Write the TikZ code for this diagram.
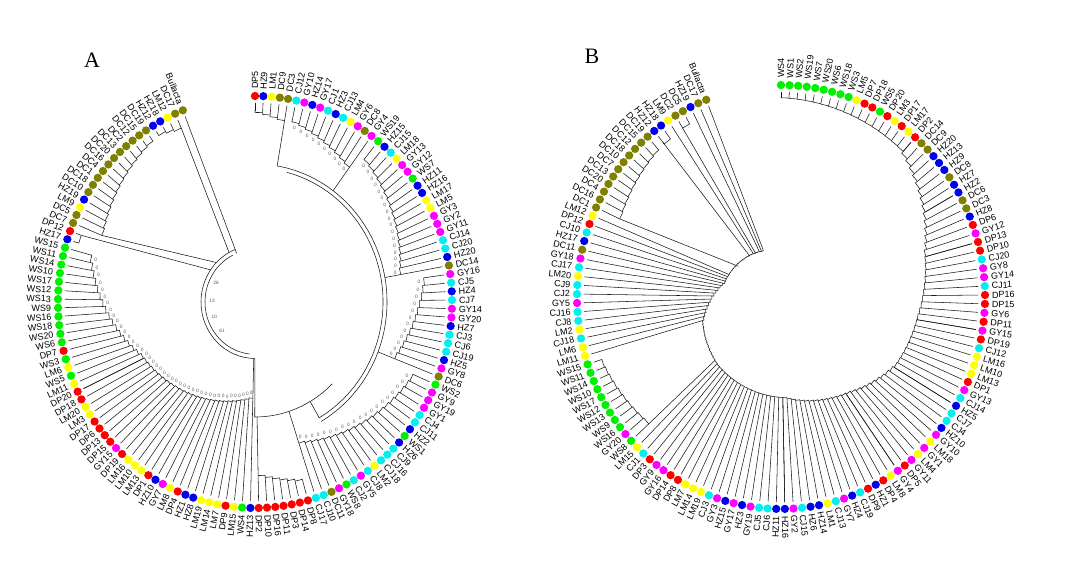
\documentclass[tikz,border=0pt]{standalone}
\usepackage{fontspec}
\setmainfont{Liberation Sans}
\newfontfamily\panelfont{Liberation Serif}
\definecolor{cDP}{RGB}{255,0,0}
\definecolor{cHZ}{RGB}{0,0,240}
\definecolor{cLM}{RGB}{255,255,0}
\definecolor{cDC}{RGB}{128,128,0}
\definecolor{cWS}{RGB}{0,240,0}
\definecolor{cGY}{RGB}{255,0,255}
\definecolor{cCJ}{RGB}{0,240,240}
\definecolor{cBullacta}{RGB}{128,128,0}
\newcommand\dA{2.41786}
% ring of dots and labels
\newcommand\leafring[2]{%
  \foreach \p/\n [count=\i from 0] in {#2}{%
    \pgfmathsetmacro\lph{90-\i*\dA}%
    \edef\lcol{c\p}%
    \node[dot, fill=\lcol] (#1d\i) at (\lph:\Rd) {};%
    \pgfmathsetmacro\lcos{cos(\lph)}%
    \ifdim\lcos pt<-0.01pt
      \pgfmathsetmacro\lrot{\lph+180}%
      \node[lab, anchor=east, rotate=\lrot] (#1l\i) at (\lph:\Rl) {\p\n};%
    \else
      \node[lab, anchor=west, rotate=\lph] (#1l\i) at (\lph:\Rl) {\p\n};%
    \fi
  }}
% staircase clade: leaves #1..#2, inner radius from #3 to #4, #5=1 draws tip lines
\newcommand\stairs[5]{%
  \foreach \k in {#1,...,#2}{%
    \pgfmathsetmacro\stP{90-\k*\dA}%
    \pgfmathsetmacro\stR{#3+(#4-#3)*(\k-#1)/max(#2-#1,1)}%
    \ifnum#5=1 \draw[tree] (\stP:\rO) -- (\stP:\stR);\fi
    \ifnum\k<#2
      \pgfmathsetmacro\stQ{90-(\k+1)*\dA}%
      \pgfmathsetmacro\stN{#3+(#4-#3)*(\k+1-#1)/max(#2-#1,1)}%
      \pgfmathsetmacro\stM{min(\stR,\stN)}%
      \draw[tree] (\stP:\stR) -- (\stP:\stM) arc[start angle=\stP, end angle=\stQ, radius=\stM pt] -- (\stQ:\stN);%
    \fi
  }}
\newcommand\zeros[5]{%
  \foreach \k in {#1,...,#2}{%
    \ifnum\k<#2
      \pgfmathsetmacro\zph{90-(\k+0.5)*\dA}%
      \pgfmathsetmacro\zr{min(#3+(#4-#3)*(\k-#1)/max(#2-#1,1),#3+(#4-#3)*(\k+1-#1)/max(#2-#1,1))-5}%
      \node[bs] (#5\k) at (\zph:\zr) {0};%
    \fi}}
\newcommand\radial[3]{\pgfmathsetmacro\qph{90-#1*\dA}\draw[tree] (\qph:#2) -- (\qph:#3);}
\newcommand\arcidx[3]{\pgfmathsetmacro\qa{90-#1*\dA}\pgfmathsetmacro\qb{90-#2*\dA}\draw[tree] (\qa:#3) arc[start angle=\qa, end angle=\qb, radius=#3 pt];}
\newcommand\slant[4]{\pgfmathsetmacro\qa{90-#1*\dA}\pgfmathsetmacro\qb{90-#3*\dA}\draw[tree] (\qa:#2) -- (\qb:#4);}
\begin{document}
\begin{tikzpicture}[x=1pt,y=1pt,
  tree/.style={line width=0.55pt, black!90},
  dot/.style={circle, inner sep=0pt, minimum size=8.3pt, draw=none},
  lab/.style={inner sep=0.3pt, font=\fontsize{9}{10}\selectfont, text=black},
  bs/.style={inner sep=0pt, font=\fontsize{4.8}{5}\selectfont, text=black!65}]
\fill[white] (0,0) rectangle (1091,577);
\useasboundingbox (0,0) rectangle (1091,577);
\node[font=\panelfont\fontsize{22}{24}\selectfont, inner sep=0pt] (pA) at (92,517) {A};
\node[font=\panelfont\fontsize{22}{24}\selectfont, inner sep=0pt] (pB) at (592,521) {B};
% ================= panel A =================
\begin{scope}[shift={(255,275)}, yscale=1.0457]
\def\Rd{197}\def\rO{190.5}\def\Rl{203.5}
\stairs{0}{4}{183}{176}{1}
\stairs{5}{15}{178}{160}{1}
\stairs{16}{33}{176}{148}{1}
\stairs{34}{46}{172}{150}{1}
\stairs{47}{67}{174}{142}{1}
\stairs{68}{74}{178}{166}{1}
\radial{4}{176}{132}
\radial{15}{160}{132}
\radial{33}{148}{132}
\radial{46}{150}{132}
\radial{67}{142}{110}
\radial{74}{166}{110}
\arcidx{4}{62}{132}
\arcidx{6}{62}{128}
\radial{62}{128}{110}
\arcidx{56}{74.5}{110}
\radial{74.5}{110}{54}
\stairs{75}{101}{92}{124}{1}
\stairs{101}{118}{124}{172}{1}
\radial{75}{92}{54}
\stairs{119}{120}{188}{185}{1}
\slant{120}{185}{126}{54}
\stairs{121}{135}{166}{186}{1}
\slant{121}{166}{130}{54}
\stairs{136}{139}{188}{182}{1}
\slant{139}{182}{137}{54}
\radial{140}{\rO}{50}
\arcidx{74.5}{140}{54}
\arcidx{77}{138}{50}
\zeros{5}{15}{178}{160}{zf}
\zeros{16}{33}{176}{148}{zc}
\zeros{34}{46}{172}{150}{zd}
\zeros{47}{67}{174}{142}{ze}
\zeros{75}{101}{92}{124}{za}
\zeros{101}{118}{124}{172}{zb}
\node[bs] (n26) at (-205:43) {26};
\node[bs] (n13) at (-182:43) {13};
\node[bs] (n10) at (-161:43) {10};
\node[bs] (n61) at (-140:43) {61};
\leafring{a}{DP/5, HZ/9, LM/1, DC/9, DC/3, CJ/12, GY/10, HZ/14, GY/17, CJ/1, HZ/3, CJ/13, LM/4, GY/6, DC/8, GY/4, WS/19, HZ/15, CJ/15, LM/18, GY/13, GY/12, WS/7, HZ/11, HZ/16, LM/17, LM/5, GY/3, GY/2, GY/11, CJ/14, CJ/20, HZ/20, DC/14, GY/16, CJ/5, HZ/4, CJ/7, GY/14, GY/20, HZ/7, CJ/3, CJ/6, CJ/19, HZ/5, GY/8, DC/6, WS/2, GY/9, GY/19, GY/1, CJ/4, CJ/11, HZ/2, WS/1, HZ/6, CJ/9, CJ/16, CJ/18, LM/2, CJ/8, GY/5, CJ/2, WS/8, GY/18, DC/11, CJ/10, CJ/17, DP/8, DP/14, DP/3, DP/11, DP/16, DP/10, DP/2, HZ/13, WS/4, LM/15, DP/9, LM/7, LM/14, LM/19, HZ/8, HZ/1, DP/4, LM/8, GY/7, HZ/10, DP/1, LM/13, LM/10, LM/16, DP/19, GY/15, DP/15, DP/13, DP/6, DP/17, LM/3, LM/20, DP/18, DP/20, LM/11, WS/5, LM/6, WS/3, DP/7, WS/6, WS/20, WS/18, WS/16, WS/9, WS/13, WS/12, WS/17, WS/10, WS/14, WS/11, WS/15, HZ/17, DP/12, DC/7, DC/5, LM/9, HZ/19, DC/10, DC/18, DC/1, DC/4, DC/16, DC/20, DC/13, DC/2, DC/12, DC/15, DC/19, HZ/12, HZ/18, LM/12, DC/17, Bullacta/{}}
\end{scope}
% ================= panel B =================
\begin{scope}[shift={(781,280)}, yscale=1.039]
\def\Rd{204}\def\rO{197.5}\def\Rl{210.5}
\stairs{0}{17}{192}{186}{1}
\stairs{17}{25}{186}{166}{1}
\stairs{25}{31}{166}{150}{1}
\stairs{31}{41}{150}{138}{1}
\stairs{41}{50}{138}{132}{1}
\stairs{50}{60}{132}{114}{1}
\stairs{60}{74}{114}{97}{1}
\stairs{74}{93}{97}{91}{1}
\stairs{93}{105}{91}{82}{0}
\stairs{94}{104}{180}{190}{1}
\radial{94}{180}{90}
\stairs{105}{118}{82}{58}{1}
\stairs{118}{140}{58}{48}{0}
\radial{119}{\rO}{57.5}
\radial{120}{\rO}{57}
\radial{121}{\rO}{56.5}
\stairs{122}{132}{178}{188}{1}
\slant{122}{178}{126}{52}
\stairs{133}{134}{190}{188}{1}
\radial{133}{190}{50}
\radial{135}{\rO}{50}
\stairs{136}{137}{190}{190}{1}
\radial{136}{190}{49}
\radial{138}{\rO}{49}
\radial{139}{\rO}{48.5}
\radial{140}{\rO}{48}
\leafring{b}{WS/4, WS/1, WS/2, WS/19, WS/7, WS/20, WS/6, WS/18, WS/3, LM/5, DP/7, DP/18, WS/5, DP/20, LM/3, DP/17, LM/17, DP/2, DC/14, DC/9, HZ/20, HZ/13, HZ/9, DC/8, HZ/7, HZ/2, DC/6, DC/3, HZ/8, DP/6, GY/12, DP/13, DP/10, CJ/20, GY/8, GY/14, CJ/11, DP/16, DP/15, GY/6, DP/11, GY/15, DP/19, CJ/12, LM/16, LM/10, LM/13, DP/1, GY/13, CJ/14, HZ/5, CJ/7, CJ/4, HZ/10, GY/10, LM/18, GY/1, LM/4, GY/11, DP/5, GY/4, LM/8, DP/4, HZ/1, DP/9, CJ/19, HZ/4, GY/7, CJ/13, LM/1, HZ/14, HZ/6, CJ/15, GY/2, HZ/16, HZ/11, CJ/6, CJ/5, GY/19, HZ/3, GY/17, HZ/15, GY/3, CJ/3, LM/19, LM/14, LM/7, DP/8, DP/14, GY/16, GY/9, DP/3, CJ/1, LM/15, WS/8, GY/20, WS/16, WS/9, WS/13, WS/12, WS/17, WS/10, WS/14, WS/11, WS/15, LM/11, LM/6, CJ/18, LM/2, CJ/8, CJ/16, GY/5, CJ/2, CJ/9, LM/20, CJ/17, GY/18, DC/11, HZ/17, CJ/10, DP/12, LM/12, DC/1, DC/16, DC/4, DC/20, DC/13, DC/7, DC/10, DC/18, DC/12, DC/15, DC/19, HZ/12, HZ/18, LM/9, DC/2, DC/5, HZ/19, DC/17, Bullacta/{}}
\end{scope}
\end{tikzpicture}
\end{document}
